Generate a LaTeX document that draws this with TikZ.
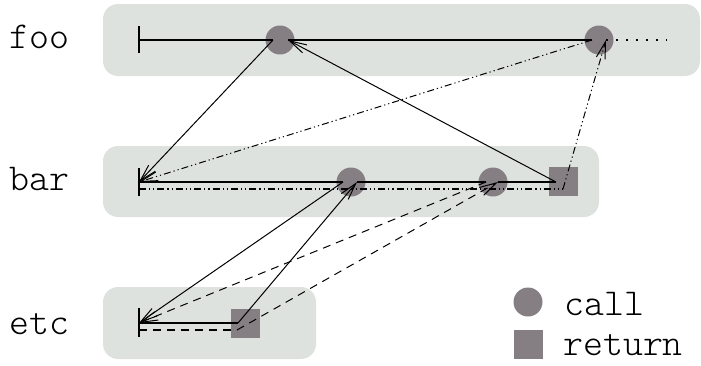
\documentclass[tikz,border=0pt]{standalone}
\usepackage{fontspec}
\newfontfamily\traceface{Latin Modern Mono Light}
\usetikzlibrary{arrows.meta}

\begin{document}
\begin{tikzpicture}[x=1pt,y=-1pt,
    band/.style={shape=rectangle,fill=trace_band,rounded corners=15pt,inner sep=0pt},
    callmark/.style={shape=circle,fill=trace_mark,minimum size=29pt,inner sep=0pt},
    retmark/.style={shape=rectangle,fill=trace_mark,minimum size=29pt,inner sep=0pt},
    rowname/.style={font=\traceface\fontsize{38}{44}\selectfont,inner sep=0pt,text depth=0pt},
    timeline/.style={line width=1.3pt},
    flow/.style={line width=1pt,-{Straight Barb[length=17pt,width=9pt,line width=1pt]}},
    twodots/.style={dash pattern=on 7pt off 3pt on 1.2pt off 3pt on 1.2pt off 3pt},
    longdash/.style={dash pattern=on 8pt off 6pt},
    fewdots/.style={dash pattern=on 1.5pt off 8.5pt}]
    \definecolor{trace_band}{RGB}{222,226,222}
    \definecolor{trace_mark}{RGB}{133,127,131}
    \useasboundingbox (0,0) rectangle (701,365);
    % rows
    \node[band,minimum width=597pt,minimum height=72pt] (fooband) at (401.5,40) {};
    \node[band,minimum width=496pt,minimum height=71pt] (barband) at (351,181.5) {};
    \node[band,minimum width=213pt,minimum height=72pt] (etcband) at (209.5,323) {};
    \node[rowname,anchor=base west] (fooname) at (9,48) {foo};
    \node[rowname,anchor=base west] (barname) at (9,190) {bar};
    \node[rowname,anchor=base west] (etcname) at (9,334) {etc};
    % calls and returns
    \node[callmark] (fooA) at (280,40) {};
    \node[callmark] (fooB) at (599,40) {};
    \node[callmark] (barA) at (351,182) {};
    \node[callmark] (barB) at (493,182) {};
    \node[retmark] (barR) at (563.5,181.5) {};
    \node[retmark] (etcR) at (245,323) {};
    % points where the arrows leave and arrive
    \coordinate (fooS) at (139,40);
    \coordinate (fooAo) at (273,40);
    \coordinate (fooAi) at (288,40);
    \coordinate (fooBo) at (592,40);
    \coordinate (fooBi) at (606,40);
    \coordinate (fooE) at (667,40);
    \coordinate (barS) at (139,182);
    \coordinate (barS2) at (139,189);
    \coordinate (barAo) at (343,182);
    \coordinate (barAi) at (357,182);
    \coordinate (barBo) at (486,182);
    \coordinate (barBi) at (498,182);
    \coordinate (barRo) at (556,182);
    \coordinate (barR2) at (563,189);
    \coordinate (etcS) at (139,323);
    \coordinate (etcS2) at (139,330);
    \coordinate (etcRo) at (238,323);
    \coordinate (etcR2) at (237,330);
    % timelines
    \draw[timeline] (139,26) to (139,53);
    \draw[timeline] (139,168) to (139,196);
    \draw[timeline] (139,308) to (139,337);
    \draw[timeline] (fooS) to (fooAo);
    \draw[timeline] (fooAi) to (fooBo);
    \draw[timeline,fewdots] (fooBi) to (fooE);
    \draw[timeline] (barS) to (barAo);
    \draw[timeline] (barAi) to (barBo);
    \draw[timeline] (barBi) to (barRo);
    \draw[timeline,twodots] (barS2) to (barR2);
    \draw[timeline] (etcS) to (etcRo);
    \draw[timeline,longdash] (etcS2) to (etcR2);
    % arrows between the rows
    \draw[flow] (fooAo) to (barS);
    \draw[flow] (barRo) to (fooAi);
    \draw[flow,twodots] (fooBo) to (barS);
    \draw[flow,twodots] (barR2) to (fooBi);
    \draw[flow] (barAo) to (etcS);
    \draw[flow] (etcRo) to (barAi);
    \draw[flow,longdash] (barBo) to (etcS);
    \draw[flow,longdash] (etcR2) to (barBi);
    % legend
    \node[callmark] (callkey) at (528,302) {};
    \node[retmark] (retkey) at (528,344) {};
    \node[rowname,anchor=base west] (calltext) at (564,315) {call};
    \node[rowname,anchor=base west] (rettext) at (563,355) {return};
\end{tikzpicture}
\end{document}
